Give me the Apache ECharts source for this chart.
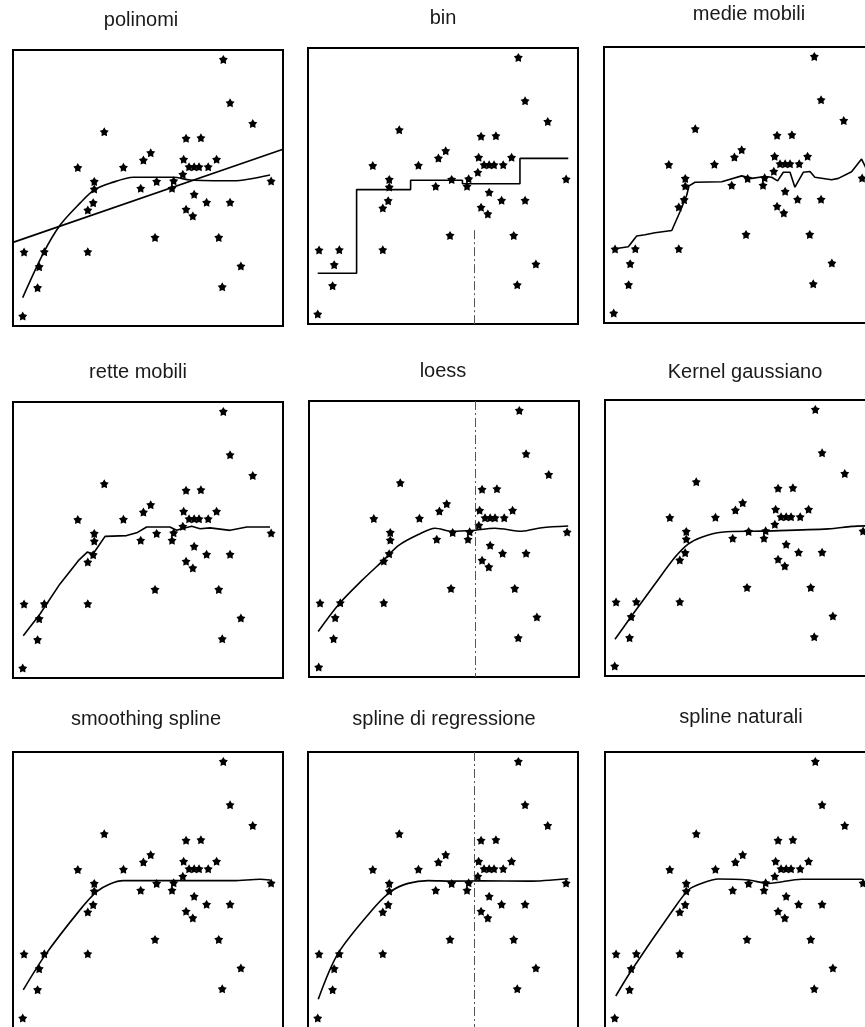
<!DOCTYPE html>
<html>
<head>
<meta charset="utf-8">
<script src="https://cdn.jsdelivr.net/npm/echarts@6/dist/echarts.min.js"></script>
<style>
  html, body { margin: 0; padding: 0; background: #fff; }
  #main { width: 865px; height: 1027px; }
</style>
</head>
<body>
<div id="main"></div>
<script>
// titoli dei pannelli
var titles = ['polinomi', 'bin', 'medie mobili',
  'rette mobili', 'loess', 'Kernel gaussiano',
  'smoothing spline', 'spline di regressione', 'spline naturali'];

// nuvola di punti (uguale in tutti i pannelli), scala 0-100
var pointsX = [77.9, 80.4, 88.8, 33.8, 64.1, 69.6, 51.0, 48.3, 63.2, 75.4, 24.0, 40.9, 65.2, 67.1, 68.9, 72.3,
  62.9, 30.1, 53.2, 59.5, 95.6, 47.3, 30.1, 58.9, 67.1, 29.7, 71.7, 80.4, 27.7, 64.1, 66.6, 52.6, 76.2,
  4.1, 11.6, 27.7, 9.7, 84.4, 9.1, 77.5, 3.6];
var pointsY = [96.6, 80.9, 73.4, 70.4, 68.0, 68.2, 62.8, 60.1, 60.4, 60.4, 57.4, 57.5, 57.7, 57.7, 57.7, 57.7,
  55.0, 52.4, 52.4, 52.6, 52.5, 49.9, 49.6, 49.9, 47.7, 44.7, 44.8, 44.8, 42.0, 42.3, 39.9, 32.1, 32.1,
  26.8, 26.9, 26.9, 21.5, 21.7, 13.9, 14.2, 3.6];

// curve
var linearFit = [[0, 30.3], [100, 64.0]];
var polyFit = [[3.6, 10.3], [11.2, 26.3], [17.4, 36.5], [24.8, 44.5], [30.1, 49.3], [35.9, 51.7], [44.6, 53.9],
  [59.4, 53.9], [65.6, 52.9], [81.6, 52.6], [95.2, 54.7]];
var binFit = [[3.6, 18.4], [18.0, 48.7], [38.0, 52.1], [57.2, 50.8], [78.5, 60.0], [96.4, 60.0]];
var movingAvg = [[4.1, 25.8], [4.7, 27.0], [9.0, 27.6], [12.1, 31.5], [15.2, 32.0], [18.9, 32.7], [25.1, 33.5],
  [28.1, 40.2], [30.6, 46.2], [31.5, 49.7], [33.7, 51.0], [43.6, 51.2], [51.0, 53.3], [54.7, 52.4], [59.6, 53.1],
  [62.1, 52.8], [64.3, 51.5], [66.4, 54.6], [68.9, 54.6], [70.7, 49.2], [73.8, 54.6], [76.3, 54.9], [78.1, 52.8],
  [84.3, 51.9], [86.8, 52.4], [91.7, 54.8], [95.4, 59.4], [96.9, 56.4]];
var movingLines = [[3.8, 15.3], [10.0, 23.2], [17.4, 34.1], [24.2, 42.5], [27.5, 45.6], [29.7, 45.0], [34.1, 51.3],
  [42.1, 51.6], [45.8, 52.6], [49.5, 54.7], [58.1, 54.7], [60.6, 53.5], [62.5, 54.1], [66.2, 55.0], [69.3, 54.1],
  [73.0, 54.4], [80.4, 53.5], [86.6, 54.7], [95.2, 54.7]];
var loessFit = [[3.4, 16.5], [10.9, 26.2], [19.5, 34.9], [28.1, 42.8], [33.1, 47.6], [40.5, 51.6], [46.7, 53.9],
  [52.9, 52.8], [60.3, 53.1], [68.9, 53.9], [78.8, 52.8], [86.2, 54.1], [96.0, 54.7]];
var kernelFit = [[3.7, 13.3], [9.9, 21.8], [18.5, 33.3], [25.9, 43.0], [30.9, 47.9], [35.8, 50.3], [43.2, 52.1],
  [58.0, 52.5], [82.7, 53.3], [91.4, 54.2], [96.3, 54.4]];
var smoothSpline = [[3.8, 13.8], [11.9, 26.4], [24.8, 42.8], [31.0, 49.4], [35.9, 52.2], [40.9, 53.4], [56.9, 53.4],
  [81.6, 53.4], [91.5, 53.9], [95.2, 53.6]];
var regSpline = [[3.8, 10.4], [11.2, 27.1], [24.8, 43.9], [31.0, 49.7], [37.1, 52.4], [44.5, 53.4], [53.2, 53.2],
  [64.3, 53.3], [81.6, 53.2], [96.4, 54.1]];
var naturalSpline = [[4.0, 11.6], [9.9, 21.0], [24.7, 42.1], [30.9, 50.0], [35.8, 52.4], [42.0, 54.0], [53.1, 53.6],
  [60.5, 52.4], [72.8, 53.9], [95.1, 53.9], [96.1, 51.8]];

// linea tratteggiata verticale della colonna centrale
var knotX = 61.5;

var chart = echarts.init(document.getElementById('main'));

var panelPos = [[13, 50], [308, 48], [604, 47], [13, 402], [309, 401], [605, 400], [13, 752], [308, 752], [605, 752]];
var titlePos = [[141, 10], [443, 8], [749, 4], [138, 362], [443, 361], [745, 362], [146, 709], [444, 709], [741, 707]];
var star = 'path://M50,0 L66.5,27.3 L97.6,34.5 L76.6,58.7 L79.4,90.5 L50,78 L20.6,90.5 L23.4,58.7 L2.4,34.5 L33.5,27.3 Z';

var points = pointsX.map(function (x, i) { return [x, pointsY[i]]; });

var option = {
  animation: false,
  backgroundColor: '#fff',
  title: [],
  grid: [],
  xAxis: [],
  yAxis: [],
  series: []
};

titles.forEach(function (t, i) {
  option.title.push({
    text: t,
    left: titlePos[i][0],
    top: titlePos[i][1],
    textAlign: 'center',
    padding: 0,
    textStyle: { fontFamily: 'Liberation Sans', fontSize: 20, fontWeight: 'normal', color: '#1a1a1a' }
  });
  option.grid.push({
    left: panelPos[i][0], top: panelPos[i][1], width: 270, height: 276,
    outerBoundsMode: 'none', containLabel: false,
    show: true, borderColor: '#000', borderWidth: 2, backgroundColor: 'transparent'
  });
  var ax = {
    gridIndex: i, type: 'value', min: 0, max: 100,
    axisLine: { show: false }, axisTick: { show: false }, axisLabel: { show: false }, splitLine: { show: false }
  };
  option.xAxis.push(Object.assign({}, ax));
  option.yAxis.push(Object.assign({}, ax));
  var sc = {
    type: 'scatter', xAxisIndex: i, yAxisIndex: i,
    symbol: star, symbolSize: 9, itemStyle: { color: '#000', opacity: 1 },
    data: points
  };
  if (i === 1 || i === 4 || i === 7) {
    sc.markLine = {
      silent: true, symbol: 'none', label: { show: false },
      lineStyle: { color: '#555', width: 1, type: [9, 3, 2, 3] },
      data: [[{ coord: [knotX, i === 1 ? 34 : 100] }, { coord: [knotX, 0] }]]
    };
  }
  option.series.push(sc);
});

function addLine(idx, data, smooth, step) {
  option.series.push({
    type: 'line', xAxisIndex: idx, yAxisIndex: idx,
    data: data, showSymbol: false, smooth: smooth || false, step: step || false,
    lineStyle: { color: '#000', width: 1.6 }
  });
}

addLine(0, linearFit);
addLine(0, polyFit, 0.3);
addLine(1, binFit, false, 'end');
addLine(2, movingAvg);
addLine(3, movingLines);
addLine(4, loessFit, 0.3);
addLine(5, kernelFit, 0.3);
addLine(6, smoothSpline, 0.3);
addLine(7, regSpline, 0.3);
addLine(8, naturalSpline, 0.3);

chart.setOption(option);
</script>
</body>
</html>
